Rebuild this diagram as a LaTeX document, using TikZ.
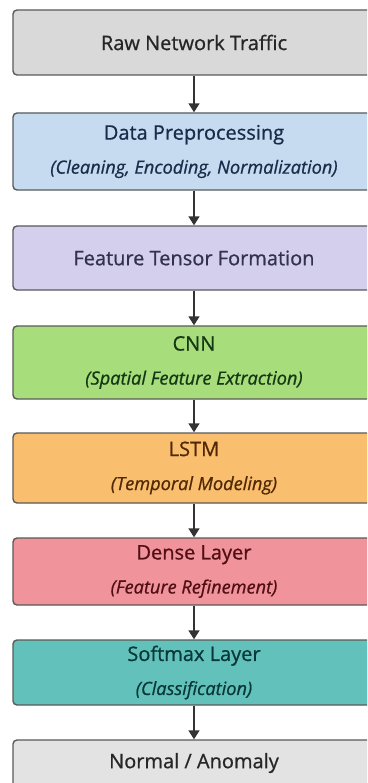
\documentclass[tikz,border=0pt]{standalone}
\usepackage{fontspec}
\setmainfont{Open Sans}
\newfontfamily\headfont[FakeBold=0.8]{Open Sans}
\usetikzlibrary{arrows.meta}

\definecolor{rawfill}{HTML}{D9D9D9}
\definecolor{prepfill}{HTML}{C6DBF0}
\definecolor{tensorfill}{HTML}{D4CFEC}
\definecolor{cnnfill}{HTML}{A8DD7C}
\definecolor{lstmfill}{HTML}{F9BF6E}
\definecolor{densefill}{HTML}{F0939A}
\definecolor{softfill}{HTML}{62C2BB}
\definecolor{outfill}{HTML}{E3E3E3}
\definecolor{edgegray}{HTML}{5A5A5A}

\newcommand{\subline}[1]{\\[4pt]{\fontsize{18.2}{20}\selectfont\itshape #1}}

\begin{document}
\begin{tikzpicture}[x=1pt,y=1pt,
    stage/.style={draw=edgegray, line width=1.4pt, rounded corners=4pt,
      minimum width=362pt, align=center,
      font=\headfont\fontsize{20}{30}\selectfont},
    flow/.style={draw=black!80, line width=1.5pt,
      -{Triangle[width=11pt,length=9pt]}}]
    \useasboundingbox (0,0) rectangle (367,-783);
    \clip (0,0) rectangle (367,-783);
    \fill[white] (0,0) rectangle (367,-783);

    \node[stage, fill=rawfill, minimum height=65pt, text=black!85] (raw) at (194,-42.5) {Raw Network Traffic};
    \node[stage, fill=prepfill, minimum height=77pt, text={rgb,255:red,25;green,45;blue,75}] (prep) at (194,-151.5)
      {Data Preprocessing\subline{(Cleaning, Encoding, Normalization)}};
    \node[stage, fill=tensorfill, minimum height=64pt, text={rgb,255:red,50;green,50;blue,80}] (tensor) at (194,-258)
      {Feature Tensor Formation};
    \node[stage, fill=cnnfill, minimum height=73pt, text={rgb,255:red,20;green,55;blue,20}] (cnn) at (194,-362.5)
      {CNN\subline{(Spatial Feature Extraction)}};
    \node[stage, fill=lstmfill, minimum height=70pt, text={rgb,255:red,80;green,40;blue,5}] (lstm) at (194,-468)
      {LSTM\subline{(Temporal Modeling)}};
    \node[stage, fill=densefill, minimum height=67pt, text={rgb,255:red,80;green,15;blue,20}] (dense) at (194,-571.5)
      {Dense Layer\subline{(Feature Refinement)}};
    \node[stage, fill=softfill, minimum height=65pt, text={rgb,255:red,10;green,55;blue,55}] (soft) at (194,-672.5)
      {Softmax Layer\subline{(Classification)}};
    \node[stage, fill=outfill, minimum height=65pt] (out) at (194,-772.5) {};
    \node[text=black!85, font=\headfont\fontsize{20}{30}\selectfont] (outlabel) at (194,-763) {Normal / Anomaly};

    \foreach \a/\b in {raw/prep, prep/tensor, tensor/cnn, cnn/lstm, lstm/dense, dense/soft, soft/out} {
      \draw[flow] (\a.south) -- (\b.north);
    }
\end{tikzpicture}
\end{document}
